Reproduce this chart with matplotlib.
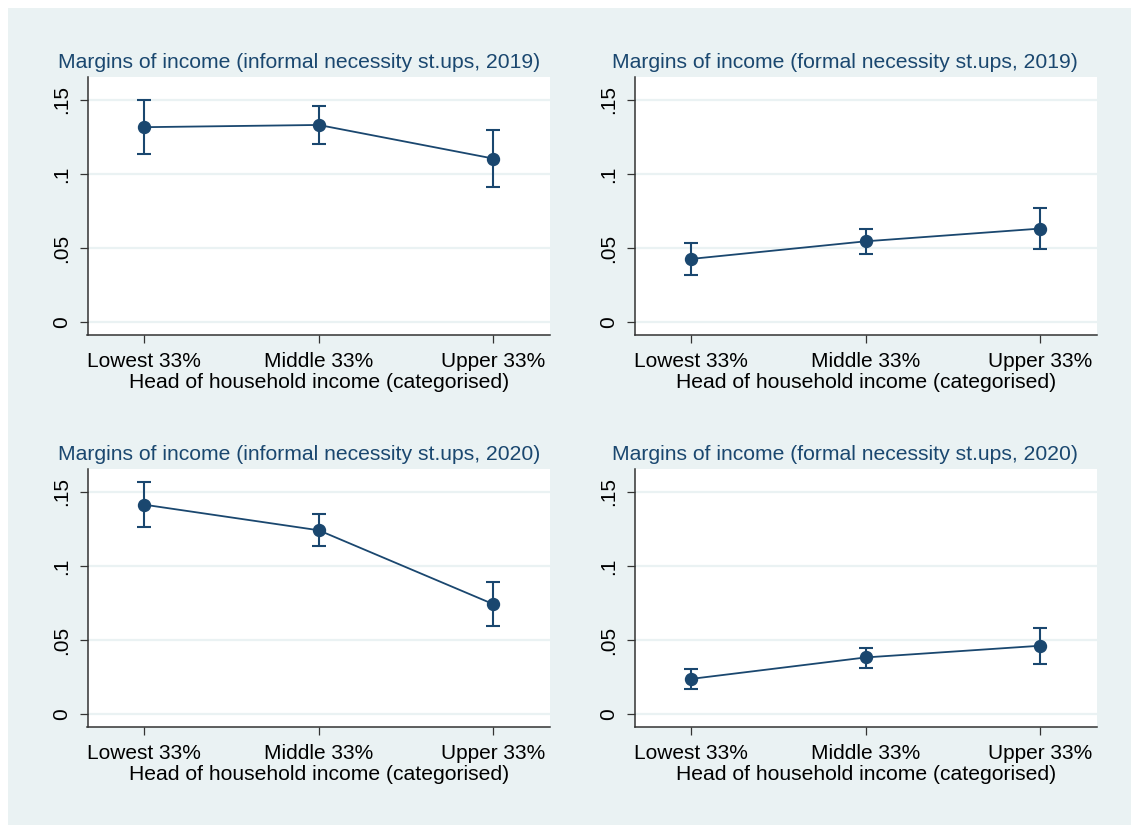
import matplotlib
matplotlib.use("Agg")
import matplotlib.pyplot as plt
from matplotlib.patches import Rectangle

plt.rcParams["font.family"] = ["Liberation Sans", "DejaVu Sans"]

# Income groups on the x axis
categories = ["Lowest 33%", "Middle 33%", "Upper 33%"]
y_ticks = [0, 0.05, 0.10, 0.15]
y_tick_labels = ["0", ".05", ".1", ".15"]
x_title = "Head of household income (categorised)"

# Predictive margins with 95% confidence limits
informal_2019 = [0.1316, 0.1331, 0.1104]
informal_2019_lo = [0.1133, 0.1203, 0.0914]
informal_2019_hi = [0.1500, 0.1462, 0.1297]

formal_2019 = [0.0426, 0.0545, 0.0631]
formal_2019_lo = [0.0318, 0.0459, 0.0495]
formal_2019_hi = [0.0536, 0.0628, 0.0770]

informal_2020 = [0.1414, 0.1241, 0.0742]
informal_2020_lo = [0.1266, 0.1132, 0.0591]
informal_2020_hi = [0.1566, 0.1349, 0.0891]

formal_2020 = [0.0237, 0.0382, 0.0461]
formal_2020_lo = [0.0169, 0.0312, 0.0337]
formal_2020_hi = [0.0307, 0.0447, 0.0583]

titles = [
    "Margins of income (informal necessity st.ups, 2019)",
    "Margins of income (formal necessity st.ups, 2019)",
    "Margins of income (informal necessity st.ups, 2020)",
    "Margins of income (formal necessity st.ups, 2020)",
]

NAVY = "#1a476f"
BG = "#eaf2f3"
W, H = 1131, 825

fig = plt.figure(figsize=(W / 100, H / 100), dpi=100, facecolor="white")
fig.patches.append(Rectangle((8 / W, 0), 1 - 8 / W, 1 - 8 / H,
                             transform=fig.transFigure, facecolor=BG,
                             edgecolor="none", zorder=-10))

# panel geometry in pixels:
# (axes left, axes right, axes top, axes bottom, title centre x, title centre y)
panels = [
    (87.5, 550, 77, 335, 299, 63, informal_2019, informal_2019_lo, informal_2019_hi),
    (634.5, 1097, 77, 335, 845, 63, formal_2019, formal_2019_lo, formal_2019_hi),
    (87.5, 550, 469, 727, 299, 455, informal_2020, informal_2020_lo, informal_2020_hi),
    (634.5, 1097, 469, 727, 845, 455, formal_2020, formal_2020_lo, formal_2020_hi),
]

xs = [1, 2, 3]
for (l, r, t, b, tcx, tcy, est, lo, hi), title in zip(panels, titles):
    ax = fig.add_axes([l / W, 1 - b / H, (r - l) / W, (b - t) / H])
    ax.set_facecolor("white")
    ax.set_xlim(0.675, 3.325)
    ax.set_ylim(-0.0088, 0.1655)

    for yv in y_ticks:
        ax.axhline(yv, color=BG, lw=1.6, zorder=0)

    yerr = [[e - a for e, a in zip(est, lo)], [c - e for e, c in zip(est, hi)]]
    ax.errorbar(xs, est, yerr=yerr, fmt="none", ecolor=NAVY, elinewidth=1.5,
                capsize=5.2, capthick=1.5, zorder=2)
    ax.plot(xs, est, color=NAVY, lw=1.3, marker="o", markersize=8.6,
            markerfacecolor=NAVY, markeredgecolor=NAVY, zorder=3)

    for side in ("top", "right"):
        ax.spines[side].set_visible(False)
    for side in ("left", "bottom"):
        ax.spines[side].set_color("#333333")
        ax.spines[side].set_linewidth(1.1)

    ax.set_yticks(y_ticks)
    ax.set_yticklabels(y_tick_labels, rotation=90, va="center", fontsize=15)
    ax.set_xticks(xs)
    ax.set_xticklabels(categories, fontsize=15)
    ax.tick_params(axis="both", length=6, width=0.9, color="#333333",
                   labelcolor="black")
    ax.tick_params(axis="x", pad=6)
    ax.tick_params(axis="y", pad=6)
    ax.set_xlabel(x_title, fontsize=15.2, labelpad=2)

    fig.text(tcx / W, 1 - tcy / H, title, ha="center", va="center",
             fontsize=15.2, color=NAVY)

fig.savefig("out.png", dpi=100, facecolor="white")
